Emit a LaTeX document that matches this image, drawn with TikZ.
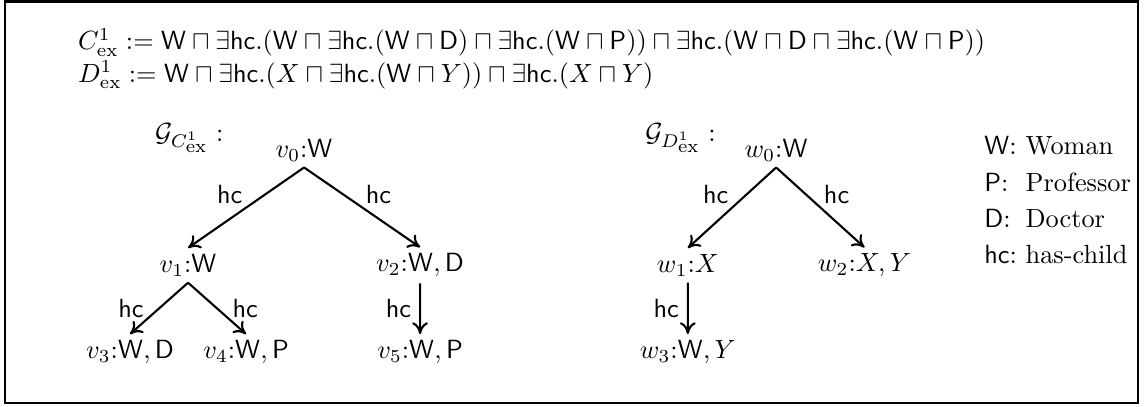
\documentclass[tikz,border=0pt]{standalone}
\usepackage{amsmath}
\usepackage{amssymb}
\usetikzlibrary{positioning, arrows.meta}

\newcommand{\csW}{\mathsf{W}}
\newcommand{\csD}{\mathsf{D}}
\newcommand{\csP}{\mathsf{P}}
\newcommand{\rhc}{\mathsf{hc}}
\renewcommand{\arraystretch}{1.15}

\begin{document}
\begin{tikzpicture}[every node/.style={inner sep=1pt},
      vertex/.style={inner sep=2.2pt},
      every child node/.style={vertex},
      level distance=15.4mm,
      level 1/.style={sibling distance=31mm},
      level 2/.style={sibling distance=15.5mm, level distance=11.6mm},
      edge from parent/.style={draw, thick, -{To[length=4.5pt, width=6pt]}},
      edge from parent path={(\tikzparentnode.south) -- (\tikzchildnode.north)},
      hclabel/.style={font=\sffamily, inner sep=1pt}]

      \useasboundingbox (0,0) rectangle (15.34,-5.426);
      \draw[line width=0.8pt] (0.067,-0.02) rectangle (15.21,-5.38);

      % Concept definitions
      \node[anchor=base west] (cdef) at (1.002,-0.668)
        {$C^1_{\mathrm{ex}} := \csW \sqcap \exists\rhc.(\csW \sqcap \exists\rhc.(\csW \sqcap \csD) \sqcap \exists\rhc.(\csW \sqcap \csP)) \sqcap \exists\rhc.(\csW \sqcap \csD \sqcap \exists\rhc.(\csW \sqcap \csP))$};
      \node[anchor=base west] (ddef) at (1.002,-1.096)
        {$D^1_{\mathrm{ex}} := \csW \sqcap \exists\rhc.(X \sqcap \exists\rhc.(\csW \sqcap Y)) \sqcap \exists\rhc.(X \sqcap Y)$};

      % Graph of C
      \node[anchor=west] (gc) at (2.031,-1.844) {$\mathcal{G}_{C^1_{\scriptstyle\mathrm{ex}}}:$};
      \node[vertex] (v0) at (4.063,-2.005) {$v_0$:$\csW$}
        child { node (v1) {$v_1$:$\csW$}
          child { node (v3) {$v_3$:$\csW, \csD$}
            edge from parent node[hclabel, left=4.5pt] {hc}
          }
          child { node (v4) {$v_4$:$\csW, \csP$}
            edge from parent node[hclabel, right=4.5pt] {hc}
          }
          edge from parent node[hclabel, above left] {hc}
        }
        child { node (v2) {$v_2$:$\csW, \csD$}
          child { node (v5) {$v_5$:$\csW, \csP$}
            edge from parent node[hclabel, left=2pt] {hc}
          }
          edge from parent node[hclabel, above right] {hc}
        };

      % Graph of D
      \node[anchor=west] (gd) at (8.580,-1.844) {$\mathcal{G}_{D^1_{\scriptstyle\mathrm{ex}}}:$};
      \begin{scope}[level 1/.style={sibling distance=23.6mm}]
      \node[vertex] (w0) at (10.371,-2.005) {$w_0$:$\csW$}
        child { node (w1) {$w_1$:$X$}
          child { node (w3) {$w_3$:$\csW, Y$}
            edge from parent node[hclabel, left=2pt] {hc}
          }
          edge from parent node[hclabel, above left] {hc}
        }
        child { node (w2) {$w_2$:$X, Y$}
          edge from parent node[hclabel, above right] {hc}
        };
      \end{scope}

      % Legend
      \node[anchor=base west] (legend) at (13.11,-2.071)
        {\begin{tabular}[t]{@{}l@{~}l@{}}
          $\csW$: & Woman\\
          $\csP$: & Professor\\
          $\csD$: & Doctor\\
          $\rhc$: & has-child
        \end{tabular}};
    \end{tikzpicture}
\end{document}
